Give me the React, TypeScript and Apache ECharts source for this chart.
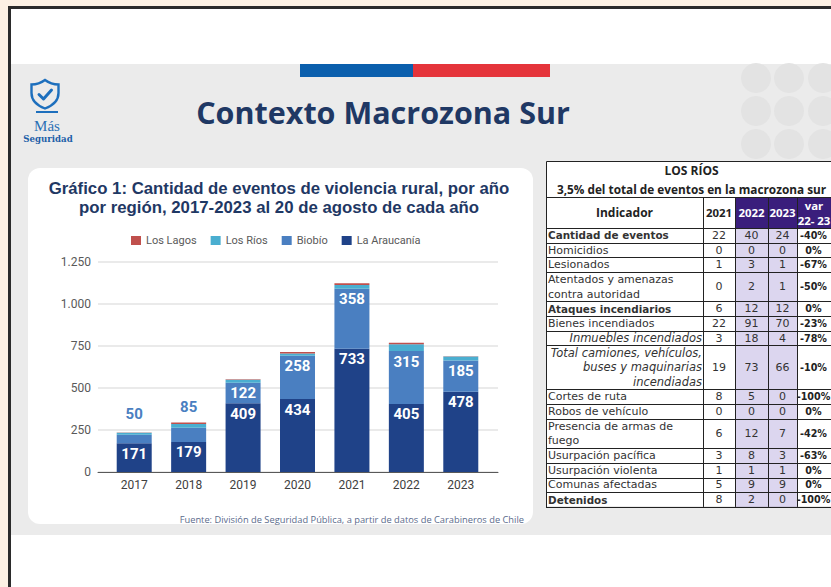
import React, { useEffect, useRef } from "react";
import * as echarts from "echarts";

// ---------- Chart data ----------
const years = ["2017", "2018", "2019", "2020", "2021", "2022", "2023"];
const laAraucania = [171, 179, 409, 434, 733, 405, 478];
const biobio = [50, 85, 122, 258, 358, 315, 185];
const losRios = [12, 22, 18, 14, 22, 40, 24];
const losLagos = [2, 8, 3, 9, 10, 10, 2];
const yTicks = [0, 250, 500, 750, 1000, 1250];
const legendOrder = ["Los Lagos", "Los Ríos", "Biobío", "La Araucanía"];

// ---------- Table data ----------
const tableTitle = "LOS RÍOS";
const tableSubtitle = "3,5% del total de eventos en la macrozona sur";
const tableHeaders = ["Indicador", "2021", "2022", "2023", "var\n22- 23"];
const indicadores = [
  "Cantidad de eventos",
  "Homicidios",
  "Lesionados",
  "Atentados y amenazas\ncontra autoridad",
  "Ataques incendiarios",
  "Bienes incendiados",
  "Inmuebles incendiados",
  "Total camiones, vehículos,\nbuses y maquinarias\nincendiadas",
  "Cortes de ruta",
  "Robos de vehículo",
  "Presencia de armas de\nfuego",
  "Usurpación pacífica",
  "Usurpación violenta",
  "Comunas afectadas",
  "Detenidos",
];
const v2021 = [22, 0, 1, 0, 6, 22, 3, 19, 8, 0, 6, 3, 1, 5, 8];
const v2022 = [40, 0, 3, 2, 12, 91, 18, 73, 5, 0, 12, 8, 1, 9, 2];
const v2023 = [24, 0, 1, 1, 12, 70, 4, 66, 0, 0, 7, 3, 1, 9, 0];
const variacion = ["-40%", "0%", "-67%", "-50%", "0%", "-23%", "-78%", "-10%", "-100%", "0%", "-42%", "-63%", "0%", "0%", "-100%"];
const boldRows = [0, 4, 14];
const italicRows = [6, 7];

const C = {
  araucania: "#1f4288",
  biobio: "#4a7fc1",
  rios: "#4aaed0",
  lagos: "#c0504d",
  navy: "#1f3864",
  purple: "#3a1e7c",
  lavender: "#dcd6ef",
};

const TF = "DejaVu Sans";

const SHIELD =
  "M15 0 C11 3 6 4.5 1.5 4.5 L1.5 13 C1.5 20.5 7 25.5 15 28.5 C23 25.5 28.5 20.5 28.5 13 L28.5 4.5 C24 4.5 19 3 15 0 Z";
let registered = false;
function registerLogo() {
  if (registered) return;
  echarts.graphic.registerShape("logo", echarts.graphic.extendPath(SHIELD, {}) as any);
  registered = true;
}

function txt(text: string, x: number, y: number, o: any = {}) {
  return {
    type: "text",
    x,
    y,
    z: o.z ?? 20,
    silent: true,
    style: {
      text,
      fill: o.fill ?? "#222",
      fontSize: o.fontSize ?? 11,
      fontWeight: o.fontWeight ?? "normal",
      fontStyle: o.fontStyle ?? "normal",
      fontFamily: o.fontFamily ?? TF,
      align: o.align ?? "center",
      verticalAlign: o.verticalAlign ?? "middle",
      lineHeight: o.lineHeight ?? 14.5,
    },
  };
}
function rect(x: number, y: number, w: number, h: number, fill: string, o: any = {}) {
  return {
    type: "rect",
    z: o.z ?? -5,
    silent: true,
    shape: { x, y, width: w, height: h, r: o.r ?? 0 },
    style: { fill, stroke: o.stroke ?? null, lineWidth: o.lineWidth ?? 0 },
  };
}
function line(x1: number, y1: number, x2: number, y2: number, o: any = {}) {
  return {
    type: "line",
    z: o.z ?? 15,
    silent: true,
    shape: { x1, y1, x2, y2 },
    style: { stroke: o.stroke ?? "#222", lineWidth: o.lineWidth ?? 1 },
  };
}

function buildTable() {
  const els: any[] = [];
  const colX = [546, 703, 735, 768, 797, 837];
  const top = 161;
  const headTop = 197;
  const headBottom = 228;
  const unit = 14.68;
  const left = colX[0];
  const right = colX[colX.length - 1];
  const bounds: number[] = [headBottom];
  indicadores.forEach((s) => {
    const n = s.split("\n").length;
    bounds.push(bounds[bounds.length - 1] + n * unit);
  });
  const bottom = bounds[bounds.length - 1];

  els.push(rect(left, top, right - left, bottom - top, "#ffffff", { z: 5 }));
  for (let c = 2; c < 5; c++) {
    els.push(rect(colX[c], headTop, colX[c + 1] - colX[c], headBottom - headTop, C.purple, { z: 6 }));
  }
  for (let c = 2; c < 4; c++) {
    els.push(rect(colX[c], headBottom, colX[c + 1] - colX[c], bottom - headBottom, C.lavender, { z: 6 }));
  }
  els.push({
    type: "rect",
    z: 16,
    silent: true,
    shape: { x: left + 0.5, y: top + 0.5, width: right - left, height: bottom - top },
    style: { fill: null, stroke: "#222", lineWidth: 1 },
  });
  [headTop, ...bounds].forEach((y) => els.push(line(left, Math.round(y) + 0.5, right, Math.round(y) + 0.5)));
  colX.slice(1, 5).forEach((x) => els.push(line(x + 0.5, headTop, x + 0.5, bottom)));

  els.push(txt(tableTitle, (left + right) / 2, 170, { fontFamily: "Open Sans", fontWeight: "bold", fontSize: 12 }));
  els.push(txt(tableSubtitle, (left + right) / 2, 189, { fontFamily: "Open Sans", fontWeight: "bold", fontSize: 11.8 }));
  tableHeaders.forEach((h, c) => {
    const cx = (colX[c] + colX[c + 1]) / 2;
    els.push(
      txt(h, c === 4 ? cx - 3 : cx, (headTop + headBottom) / 2, {
        fontFamily: "Open Sans",
        fontWeight: "bold",
        fontSize: c === 0 ? 12 : 11.4,
        lineHeight: 15,
        fill: c >= 2 ? "#ffffff" : "#222",
      })
    );
  });
  indicadores.forEach((s, r) => {
    const cy = (bounds[r] + bounds[r + 1]) / 2;
    const bold = boldRows.includes(r);
    const italic = italicRows.includes(r);
    els.push(
      txt(s, italic ? colX[1] - 1 : left + 2, cy, {
        align: italic ? "right" : "left",
        fontWeight: bold ? "bold" : "normal",
        fontStyle: italic ? "italic" : "normal",
        fontSize: bold ? 10.4 : italic ? 11.5 : 11,
        lineHeight: unit,
        fill: "#333",
      })
    );
    const vals = [v2021[r], v2022[r], v2023[r]];
    vals.forEach((v, k) => {
      els.push(txt(String(v), (colX[k + 1] + colX[k + 2]) / 2, cy, { fill: "#333", fontSize: 11 }));
    });
    els.push(txt(variacion[r], colX[4] + 16.5, cy, { fontWeight: "bold", fill: "#222", fontSize: 9.6 }));
  });
  return els;
}

function buildBackground() {
  const els: any[] = [];
  els.push({
    type: "rect",
    z: -20,
    silent: true,
    shape: { x: 9.5, y: 7.5, width: 900, height: 700 },
    style: { fill: "#ffffff", stroke: "#2b2b2b", lineWidth: 3 },
  });
  els.push(rect(11, 64, 830, 471, "#ebebeb", { z: -15 }));
  [756, 789, 823].forEach((cx) =>
    [78, 111, 144].forEach((cy) =>
      els.push({
        type: "circle",
        z: -14,
        silent: true,
        shape: { cx, cy, r: 15 },
        style: { fill: "#e3e3e3" },
      })
    )
  );
  els.push(rect(300, 64, 113, 13, "#0b5fad", { z: -10 }));
  els.push(rect(413, 64, 137, 13, "#e5343b", { z: -10 }));
  els.push({
    type: "logo",
    x: 30,
    y: 80,
    z: 10,
    silent: true,
    style: { fill: "none", stroke: "#1d6fbd", lineWidth: 2.4 },
  });
  els.push({
    type: "polyline",
    z: 10,
    silent: true,
    shape: { points: [[39, 94.5], [43.5, 99], [51.5, 90]] },
    style: { stroke: "#1d6fbd", lineWidth: 3, lineCap: "round", lineJoin: "round", fill: null },
  });
  els.push(rect(36, 111, 22, 2, "#1d6fbd", { z: 10 }));
  els.push(txt("Más", 47, 126, { fontFamily: "Liberation Serif", fontSize: 15, fill: "#2a6fb5" }));
  els.push(txt("Seguridad", 48, 139, { fontFamily: "DejaVu Serif", fontSize: 8.6, fontWeight: "bold", fill: "#1d5fa8" }));
  els.push(txt("Contexto Macrozona Sur", 383, 112, { fontFamily: "Open Sans", fontSize: 30.5, fontWeight: "bold", fill: C.navy }));
  els.push(rect(28, 168, 505, 356, "#ffffff", { r: 12, z: -8 }));
  els.push(
    txt("Gráfico 1: Cantidad de eventos de violencia rural, por año\npor región, 2017-2023 al 20 de agosto de cada año", 279, 197.5, {
      fontFamily: "Liberation Sans",
      fontSize: 16.8,
      fontWeight: "bold",
      fill: C.navy,
      lineHeight: 19,
    })
  );
  els.push(
    txt("Fuente: División de Seguridad Pública, a partir de datos de Carabineros de Chile", 524, 519, {
      fontFamily: "Open Sans",
      align: "right",
      fontSize: 9.3,
      fill: "#5b6b8c",
    })
  );
  return els;
}

export default function App() {
  const ref = useRef<HTMLDivElement>(null);
  useEffect(() => {
    document.body.style.margin = "0";
    registerLogo();
    const chart = echarts.init(ref.current!, null, { renderer: "svg" });
    const yMin = yTicks[0];
    const yMax = yTicks[yTicks.length - 1];
    const yInt = yTicks[1] - yTicks[0];
    const fmt = (v: number) => String(v).replace(/\B(?=(\d{3})+(?!\d))/g, ".");
    const insideLabel = {
      show: true,
      position: "insideTop",
      distance: 3,
      color: "#ffffff",
      fontWeight: "bold",
      fontSize: 15,
      fontFamily: "Roboto",
    };
    const option: any = {
      animation: false,
      backgroundColor: "#fdf1e4",
      textStyle: { fontFamily: "Roboto" },
      legend: {
        data: legendOrder,
        left: 126,
        top: 230,
        itemWidth: 10,
        itemHeight: 9,
        itemGap: 14,
        icon: "rect",
        textStyle: { fontSize: 11, color: "#595959", fontFamily: "Roboto" },
      },
      grid: [
        { left: 98, top: 262, width: 400, height: 210 },
        { left: 107, top: 262, width: 381, height: 210 },
      ],
      xAxis: [
        {
          type: "category",
          gridIndex: 0,
          data: years,
          axisLine: { show: true, lineStyle: { color: "#595959", width: 1 } },
          axisTick: { show: false },
          axisLabel: { show: false },
        },
        {
          type: "category",
          gridIndex: 1,
          data: years,
          axisLine: { show: false },
          axisTick: { show: false },
          axisLabel: { color: "#404040", fontSize: 12, margin: 7 },
        },
      ],
      yAxis: [
        {
          type: "value",
          gridIndex: 0,
          min: yMin,
          max: yMax,
          interval: yInt,
          axisLabel: { formatter: fmt, color: "#595959", fontSize: 12, margin: 7 },
          splitLine: { lineStyle: { color: "#e3e3e3", width: 1.5 } },
          axisLine: { show: false },
          axisTick: { show: false },
        },
        { type: "value", gridIndex: 1, min: yMin, max: yMax, interval: yInt, show: false, splitLine: { show: false } },
      ],
      series: [
        {
          name: "La Araucanía",
          type: "bar",
          stack: "t",
          xAxisIndex: 1,
          yAxisIndex: 1,
          barWidth: 35,
          itemStyle: { color: C.araucania },
          label: insideLabel,
          data: laAraucania,
        },
        {
          name: "Biobío",
          type: "bar",
          stack: "t",
          xAxisIndex: 1,
          yAxisIndex: 1,
          barWidth: 35,
          itemStyle: { color: C.biobio },
          label: insideLabel,
          data: biobio.map((v) =>
            v < 100 ? { value: v, label: { position: "top", distance: 13, color: C.biobio } } : v
          ),
        },
        {
          name: "Los Ríos",
          type: "bar",
          stack: "t",
          xAxisIndex: 1,
          yAxisIndex: 1,
          barWidth: 35,
          itemStyle: { color: C.rios },
          data: losRios,
        },
        {
          name: "Los Lagos",
          type: "bar",
          stack: "t",
          xAxisIndex: 1,
          yAxisIndex: 1,
          barWidth: 35,
          itemStyle: { color: C.lagos },
          data: losLagos,
        },
      ],
      graphic: { elements: [...buildBackground(), ...buildTable()] },
    };
    chart.setOption(option);
    return () => chart.dispose();
  }, []);
  return <div ref={ref} style={{ position: "fixed", left: 0, top: 0, width: 831, height: 587 }} />;
}
